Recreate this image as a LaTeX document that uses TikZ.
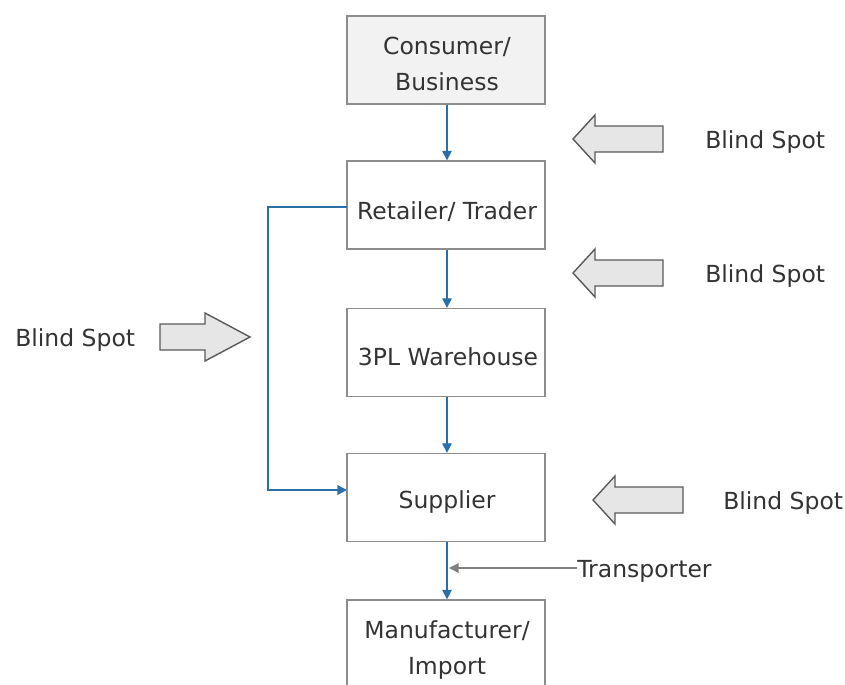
\documentclass[tikz,border=0pt]{standalone}
\usepackage{fontspec}
\setmainfont{DejaVu Sans}
\usetikzlibrary{arrows.meta}
\definecolor{flowblue}{HTML}{2A6FA8}
\definecolor{boxline}{HTML}{8C8C8C}
\definecolor{txt}{HTML}{333333}
\definecolor{bafill}{HTML}{E6E6E6}
\definecolor{baline}{HTML}{5A5A5A}
\definecolor{cfill}{HTML}{F2F2F2}
\begin{document}
\begin{tikzpicture}[x=0.025cm,y=-0.025cm,
  every node/.style={text=txt,font=\fontsize{16.7}{25.5}\selectfont},
  box/.style={draw=boxline,line width=0.9pt,minimum width=4.95cm,minimum height=2.2cm,inner sep=0pt},
  flow/.style={draw=flowblue,line width=1pt,-{Triangle[length=2.4mm,width=2.4mm]}},
  grayflow/.style={draw=gray,line width=1pt,-{Triangle[length=2.4mm,width=2.4mm]}},
  blockarrow/.style={draw=baline,fill=bafill,line width=1pt,line join=miter},
  lbl/.style={inner sep=0pt,align=center}]
\useasboundingbox (0,0) rectangle (845,684);
\begin{scope}
\clip (0,0) rectangle (845,684);
\node[box,fill=cfill] (cons) at (446,60) {};
\node[box] (ret) at (446,205) {};
\node[box] (tpl) at (446,352.5) {};
\node[box] (sup) at (446,497.5) {};
\node[box] (man) at (446,644) {};
\node[lbl] (tcons) at (447,64) {Consumer/\\Business};
\node[lbl] (tret) at (447,212) {Retailer/ Trader};
\node[lbl] (ttpl) at (448,357) {3PL Warehouse};
\node[lbl] (tsup) at (447,502) {Supplier};
\node[lbl] (tman) at (447,650) {Manufacturer/\\Import};
\end{scope}

\draw[flow] (cons.south -| 447,0) -- (ret.north -| 447,0);
\draw[flow] (ret.south -| 447,0) -- (tpl.north -| 447,0);
\draw[flow] (tpl.south -| 447,0) -- (sup.north -| 447,0);
\draw[flow] (sup.south -| 447,0) -- (man.north -| 447,0);

\coordinate (lr) at (347,207);
\coordinate (ls) at (347,490);
\draw[flow] (lr) -- (268,207) -- (268,490) -- (ls);

\node[lbl,anchor=west] (trans) at (577,571) {Transporter};
\draw[grayflow] (577,568) -- (449,568);

% block arrows (left-pointing)
\draw[blockarrow] (573,139) -- (595,115) -- (595,126) -- (663,126) -- (663,152) -- (595,152) -- (595,163) -- cycle;
\node[lbl,anchor=west] (bs1) at (705,142) {Blind Spot};
\draw[blockarrow] (573,273) -- (595,249) -- (595,260) -- (663,260) -- (663,286) -- (595,286) -- (595,297) -- cycle;
\node[lbl,anchor=west] (bs2) at (705,276) {Blind Spot};
\draw[blockarrow] (593,500) -- (615,476) -- (615,487) -- (683,487) -- (683,513) -- (615,513) -- (615,524) -- cycle;
\node[lbl,anchor=west] (bs3) at (723,503) {Blind Spot};
% right-pointing
\draw[blockarrow] (250,337) -- (205,313) -- (205,324) -- (160,324) -- (160,350) -- (205,350) -- (205,361) -- cycle;
\node[lbl,anchor=west] (bs4) at (15,340) {Blind Spot};
\end{tikzpicture}
\end{document}
